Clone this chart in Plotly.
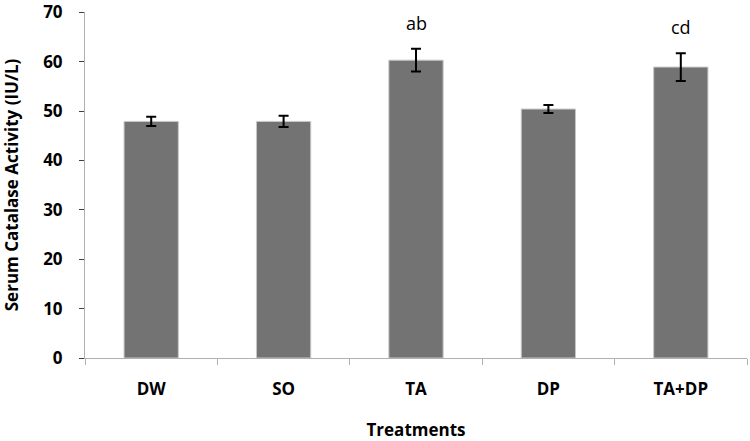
import plotly.graph_objects as go

categories = ["DW", "SO", "TA", "DP", "TA+DP"]
values = [47.9, 47.9, 60.3, 50.4, 58.9]
errors = [0.95, 1.15, 2.3, 0.8, 2.8]
labels = ["", "", "ab", "", "cd"]
y_ticks = [0, 10, 20, 30, 40, 50, 60, 70]

FONT = "Open Sans"

fig = go.Figure()
fig.add_trace(go.Bar(
    x=categories, y=values,
    marker=dict(color="#737373", line=dict(color="#c8c8c8", width=1)),
    error_y=dict(type="data", array=errors, visible=True, color="black", thickness=2, width=5),
    width=0.41,
))

for c, v, e, t in zip(categories, values, errors, labels):
    if t:
        fig.add_annotation(x=c, y=v + e, text=t, showarrow=False, yanchor="bottom", yshift=12,
                           font=dict(family=FONT, size=18, color="black"))

fig.update_layout(
    width=750, height=441,
    margin=dict(l=85, r=3, t=12, b=83),
    plot_bgcolor="white", paper_bgcolor="white",
    showlegend=False,
    font=dict(family=FONT, color="black"),
)
fig.update_xaxes(
    automargin=False,
    showline=True, linecolor="#b0b0b0", linewidth=1,
    ticks="outside", tickson="boundaries", ticklen=6, tickcolor="#b0b0b0",
    ticklabelstandoff=16,
    tickfont=dict(family=FONT, size=17, color="black", weight="bold"),
    title=dict(text="<b>Treatments</b>", font=dict(family=FONT, size=17, color="black"), standoff=25),
)
fig.update_yaxes(
    automargin=False,
    range=[0, 70.05], tickvals=y_ticks,
    showline=True, linecolor="#b0b0b0", linewidth=1,
    showgrid=False, zeroline=False,
    ticks="outside", ticklen=5, tickcolor="#404040",
    ticklabelstandoff=13, ticklabeloverflow="allow",
    tickfont=dict(family=FONT, size=17, color="black", weight="bold"),
    title=dict(text="<b>Serum Catalase Activity (IU/L)</b>", font=dict(family=FONT, size=17, color="black"), standoff=26),
)

fig.write_html("out.html", config={"displayModeBar": False},
               post_script="document.body.style.margin='0';document.body.style.padding='0';")
